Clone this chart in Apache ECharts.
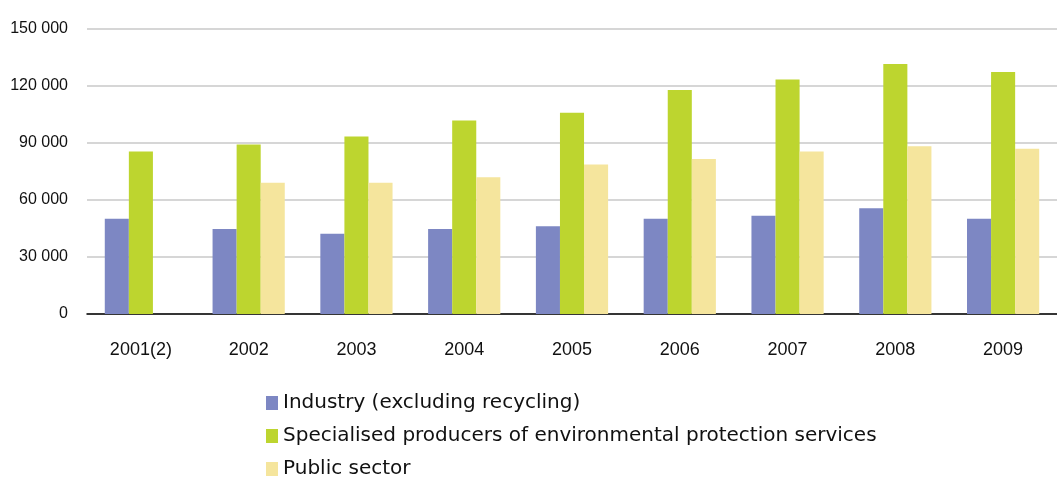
<!DOCTYPE html>
<html>
<head>
<meta charset="utf-8">
<script src="https://cdn.jsdelivr.net/npm/echarts@6/dist/echarts.min.js"></script>
<style>
html,body{margin:0;padding:0;background:#fff;}
#chart{width:1057px;height:477px;}
</style>
</head>
<body>
<div id="chart"></div>
<script>
var categories = ['2001(2)', '2002', '2003', '2004', '2005', '2006', '2007', '2008', '2009'];
var industry = [50000, 44700, 42100, 44700, 46100, 50000, 51600, 55600, 50000];
var specialised = [85400, 89100, 93300, 101600, 105800, 117700, 123200, 131400, 127200];
var publicSector = [null, 68900, 68900, 71900, 78600, 81400, 85400, 88100, 86800];
var seriesNames = ['Industry (excluding recycling)', 'Specialised producers of environmental protection services', 'Public sector'];

var chart = echarts.init(document.getElementById('chart'));
var labelFont = '"Liberation Sans", Arial, sans-serif';
chart.setOption({
  animation: false,
  color: ['#7d87c3', '#bdd52f', '#f5e59d'],
  grid: { left: 87, right: -15.5, top: 28.5, bottom: 163, containLabel: false },
  legend: {
    orient: 'vertical',
    left: 261,
    top: 388,
    height: 120,
    itemWidth: 12,
    itemHeight: 14,
    itemGap: 13,
    icon: 'rect',
    textStyle: { fontFamily: '"DejaVu Sans", sans-serif', fontSize: 20, color: '#111' },
    data: seriesNames
  },
  xAxis: {
    type: 'category',
    data: categories,
    axisLine: { lineStyle: { color: '#000', width: 1.5 } },
    axisTick: { length: 7, lineStyle: { color: '#000', width: 1.5 } },
    axisLabel: { fontFamily: labelFont, fontSize: 18, color: '#111', margin: 27 }
  },
  yAxis: {
    type: 'value',
    min: 0,
    max: 150000,
    interval: 30000,
    axisLine: { show: false },
    axisTick: { show: false },
    splitLine: { lineStyle: { color: '#c8c8c8', width: 1.5 } },
    axisLabel: {
      fontFamily: labelFont, fontSize: 16, color: '#111', margin: 19,
      formatter: function (v) { return v === 0 ? '0' : String(v).replace(/\B(?=(\d{3})+(?!\d))/g, ' '); }
    }
  },
  series: [
    { name: seriesNames[0], type: 'bar', data: industry, barGap: '0%', barCategoryGap: '33%' },
    { name: seriesNames[1], type: 'bar', data: specialised, barGap: '0%', barCategoryGap: '33%' },
    { name: seriesNames[2], type: 'bar', data: publicSector, barGap: '0%', barCategoryGap: '33%' }
  ]
});
</script>
</body>
</html>
